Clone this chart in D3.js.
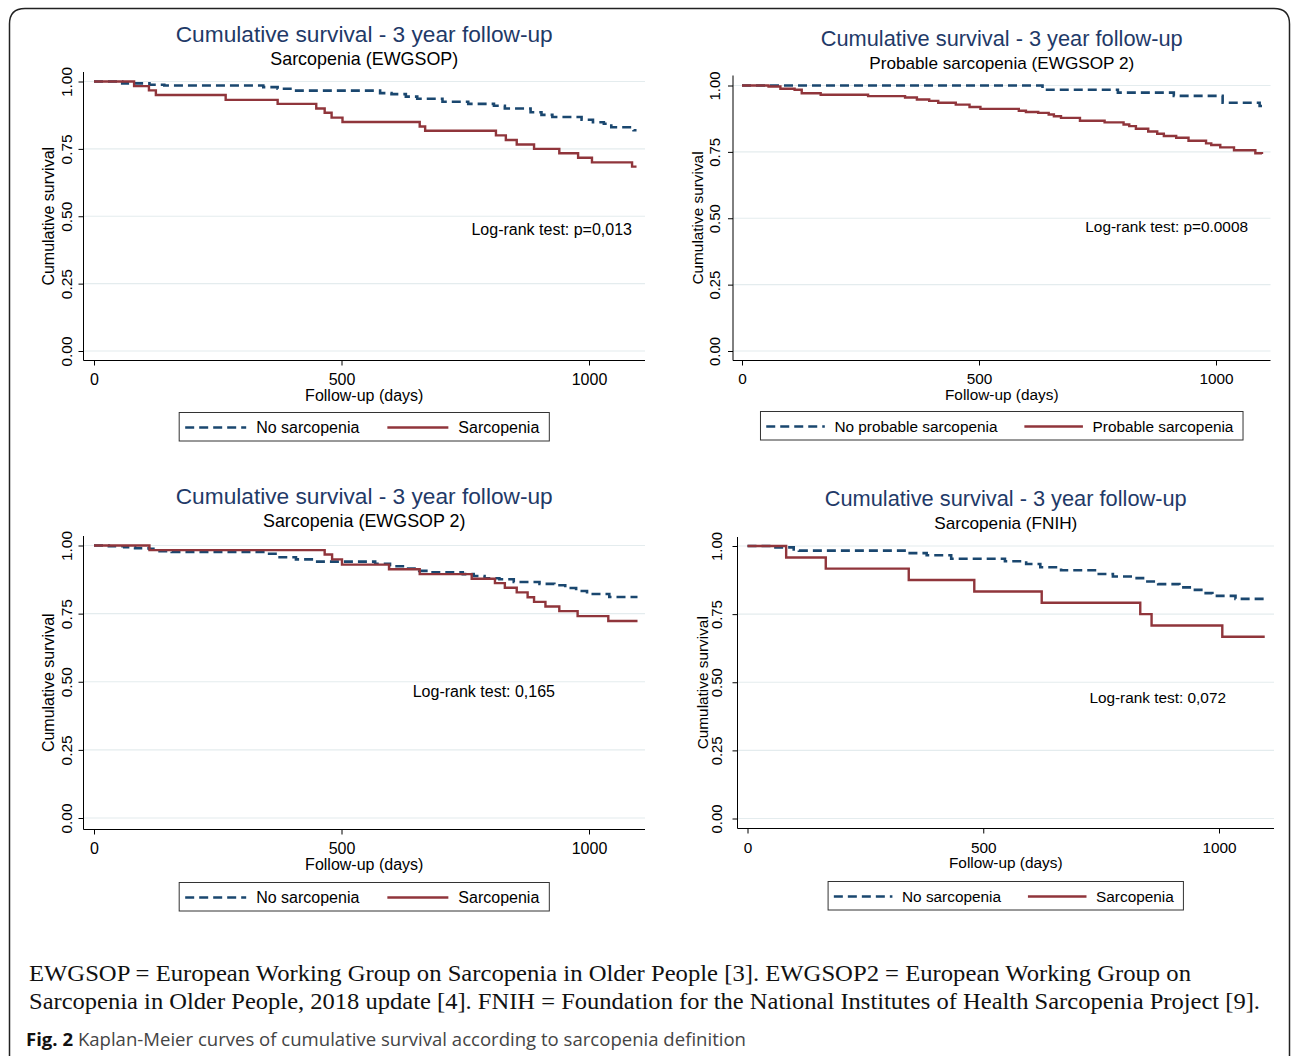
<!DOCTYPE html>
<html>
<head>
<meta charset="utf-8">
<script src="https://cdn.jsdelivr.net/npm/d3@7"></script>
<style>
  body { margin: 0; background: #fff; }
  svg { display: block; }
</style>
</head>
<body>
<svg id="chart" width="1292" height="1056"></svg>
<script>
// Kaplan-Meier values: [day, cumulative survival]
const p1No = [[0,1],[57,0.993],[112,0.988],[142,0.985],[342,0.979],[371,0.973],[401,0.966],[578,0.957],[601,0.953],[630,0.944],[653,0.936],[704,0.925],[756,0.917],[808,0.910],[830,0.900],[882,0.886],[904,0.876],[926,0.868],[985,0.858],[1008,0.849],[1030,0.843],[1045,0.830],[1090,0.819],[1096,0.819]];
const p1Yes = [[0,1],[81,0.983],[111,0.967],[125,0.950],[266,0.932],[371,0.917],[449,0.900],[466,0.884],[480,0.866],[502,0.850],[658,0.833],[669,0.817],[812,0.800],[832,0.783],[854,0.766],[889,0.750],[940,0.734],[978,0.717],[1006,0.700],[1087,0.684],[1096,0.684]];

const p2No = [[0,1],[634,0.984],[793,0.973],[911,0.961],[1014,0.935],[1092,0.923],[1097,0.923]];
const p2Yes = [[0,1],[56,0.996],[81,0.988],[111,0.984],[126,0.971],[166,0.965],[266,0.960],[344,0.955],[369,0.947],[395,0.942],[414,0.935],[451,0.928],[480,0.919],[503,0.912],[584,0.905],[599,0.900],[625,0.897],[647,0.891],[658,0.884],[673,0.878],[713,0.867],[765,0.861],[805,0.853],[817,0.847],[831,0.837],[857,0.827],[876,0.818],[890,0.810],[916,0.803],[942,0.792],[979,0.782],[990,0.776],[1009,0.767],[1038,0.756],[1083,0.745],[1097,0.742]];

const p3No = [[0,1],[30,0.997],[61,0.994],[83,0.990],[111,0.988],[120,0.979],[157,0.976],[342,0.970],[371,0.957],[408,0.949],[445,0.941],[568,0.933],[598,0.924],[624,0.915],[657,0.907],[679,0.902],[745,0.895],[767,0.888],[789,0.880],[819,0.876],[848,0.866],[900,0.859],[930,0.854],[952,0.844],[974,0.833],[996,0.822],[1041,0.811],[1098,0.811]];
const p3Yes = [[0,1],[112,0.983],[466,0.967],[481,0.949],[501,0.930],[596,0.913],[658,0.895],[763,0.878],[810,0.862],[830,0.845],[854,0.828],[876,0.810],[889,0.793],[912,0.776],[940,0.759],[977,0.741],[1039,0.723],[1098,0.723]];

const p4No = [[0,1],[56,0.995],[98,0.987],[109,0.983],[344,0.974],[380,0.966],[432,0.953],[546,0.944],[591,0.934],[621,0.922],[665,0.911],[745,0.897],[775,0.888],[819,0.882],[842,0.870],[871,0.860],[916,0.848],[938,0.839],[968,0.827],[986,0.817],[1035,0.806],[1097,0.806]];
const p4Yes = [[0,1],[82,0.958],[166,0.917],[342,0.875],[481,0.833],[624,0.792],[833,0.750],[857,0.708],[1007,0.667],[1097,0.667]];

const xTicks = [0, 500, 1000];
const yTicks = [0, 0.25, 0.5, 0.75, 1];

const titles = ["Cumulative survival - 3 year follow-up", "Cumulative survival - 3 year follow-up",
                "Cumulative survival - 3 year follow-up", "Cumulative survival - 3 year follow-up"];
const subtitles = ["Sarcopenia (EWGSOP)", "Probable sarcopenia (EWGSOP 2)", "Sarcopenia (EWGSOP 2)", "Sarcopenia (FNIH)"];
const legendLabels = [["No sarcopenia", "Sarcopenia"], ["No probable sarcopenia", "Probable sarcopenia"],
                      ["No sarcopenia", "Sarcopenia"], ["No sarcopenia", "Sarcopenia"]];
const testNotes = ["Log-rank test: p=0,013", "Log-rank test: p=0.0008", "Log-rank test: 0,165", "Log-rank test: 0,072"];
const seriesNo = [p1No, p2No, p3No, p4No];
const seriesYes = [p1Yes, p2Yes, p3Yes, p4Yes];

// panel layout (pixels); s = text scale of that panel
const panels = [
  { s: 1, L: 83.5, R: 645, T: 72, B: 360.5, x0: 94, x1000: 589, y1: 81.5, y0: 351, titleY: 34, subY: 59, ylabX: 48, tickX: 66, xtickY: 379, xtitleY: 395, legY: 412.5, noteX: 632, noteY: 229 },
  { s: 0.96, L: 733, R: 1270.5, T: 75.5, B: 360.5, x0: 742, x1000: 1216, y1: 85.5, y0: 351, titleY: 38, subY: 63, ylabX: 698, tickX: 715, xtickY: 378, xtitleY: 394, legY: 411.5, noteX: 1248, noteY: 226 },
  { s: 1, L: 83.5, R: 645, T: 536, B: 829.5, x0: 94, x1000: 589, y1: 545.5, y0: 818, titleY: 496, subY: 521, ylabX: 48, tickX: 66, xtickY: 848, xtitleY: 864, legY: 882.5, noteX: 555, noteY: 691 },
  { s: 0.96, L: 737.5, R: 1274, T: 537, B: 828.5, x0: 747.5, x1000: 1219, y1: 546, y0: 818.5, titleY: 498, subY: 523, ylabX: 703, tickX: 716.5, xtickY: 847, xtitleY: 862, legY: 881.5, noteX: 1226, noteY: 697 }
];

const blue = "#1a476f", red = "#90353b", navy = "#1f3a68";
const sans = "'Liberation Sans', Arial, sans-serif";
const dash = "9,5";

const svg = d3.select("#chart");
svg.append("rect").attr("width", 1292).attr("height", 1056).attr("fill", "#fff");

// outer frame, open at the bottom
svg.append("path")
  .attr("d", "M9.5,1056 L9.5,24 Q9.5,8.5 25,8.5 L1274,8.5 Q1289.5,8.5 1289.5,24 L1289.5,1056")
  .attr("fill", "none").attr("stroke", "#222").attr("stroke-width", 1.5);

function drawPanel(p, i) {
  const g = svg.append("g");
  const x = d3.scaleLinear().domain([0, 1000]).range([p.x0, p.x1000]);
  const y = d3.scaleLinear().domain([0, 1]).range([p.y0, p.y1]);
  const cx = (p.L + p.R) / 2;
  const fs = v => (v * p.s).toFixed(2) + "px";

  g.append("text").attr("x", cx).attr("y", p.titleY).attr("dy", "0.36em")
    .attr("text-anchor", "middle").attr("fill", navy)
    .style("font-family", sans).style("font-size", fs(22.7)).text(titles[i]);
  g.append("text").attr("x", cx).attr("y", p.subY).attr("dy", "0.36em")
    .attr("text-anchor", "middle").attr("fill", "#000")
    .style("font-family", sans).style("font-size", fs(17.9)).text(subtitles[i]);

  // gridlines
  g.selectAll(".grid").data(yTicks).join("line")
    .attr("x1", p.L).attr("x2", p.R)
    .attr("y1", d => y(d)).attr("y2", d => y(d))
    .attr("stroke", "#e4ecee").attr("stroke-width", 1.2);

  // y axis
  const ya = g.append("g").attr("transform", `translate(${p.L},0)`)
    .call(d3.axisLeft(y).tickValues(yTicks).tickFormat(d3.format(".2f")).tickSize(5));
  ya.select(".domain").remove();
  ya.selectAll(".tick line").attr("stroke", "#000");
  ya.selectAll(".tick text")
    .attr("transform", "rotate(-90)")
    .attr("x", 0).attr("dy", null)
    .attr("y", p.tickX - p.L + 5.5 * p.s)
    .attr("text-anchor", "middle")
    .attr("fill", "#000")
    .style("font-family", sans).style("font-size", fs(15.5));

  // x axis
  const xa = g.append("g").attr("transform", `translate(0,${p.B})`)
    .call(d3.axisBottom(x).tickValues(xTicks).tickFormat(d3.format("d")).tickSize(5));
  xa.select(".domain").remove();
  xa.selectAll(".tick line").attr("stroke", "#000");
  xa.selectAll(".tick text")
    .attr("y", p.xtickY - p.B).attr("dy", "0.36em")
    .attr("fill", "#000")
    .style("font-family", sans).style("font-size", fs(16));

  g.append("line").attr("x1", p.L).attr("x2", p.L).attr("y1", p.T).attr("y2", p.B)
    .attr("stroke", "#000").attr("stroke-width", 1);
  g.append("line").attr("x1", p.L).attr("x2", p.R).attr("y1", p.B).attr("y2", p.B)
    .attr("stroke", "#000").attr("stroke-width", 1);

  g.append("text")
    .attr("transform", `translate(${p.ylabX + 5.7 * p.s},${(p.T + p.B) / 2}) rotate(-90)`)
    .attr("text-anchor", "middle").attr("fill", "#000")
    .style("font-family", sans).style("font-size", fs(16)).text("Cumulative survival");
  g.append("text").attr("x", cx).attr("y", p.xtitleY).attr("dy", "0.36em")
    .attr("text-anchor", "middle").attr("fill", "#000")
    .style("font-family", sans).style("font-size", fs(16)).text("Follow-up (days)");

  const line = d3.line().x(d => x(d[0])).y(d => y(d[1])).curve(d3.curveStepAfter);
  g.append("path").datum(seriesNo[i]).attr("d", line)
    .attr("fill", "none").attr("stroke", blue).attr("stroke-width", 2.6)
    .attr("stroke-dasharray", dash);
  g.append("path").datum(seriesYes[i]).attr("d", line)
    .attr("fill", "none").attr("stroke", red).attr("stroke-width", 2.4);

  g.append("text").attr("x", p.noteX).attr("y", p.noteY).attr("dy", "0.36em")
    .attr("text-anchor", "end").attr("fill", "#000")
    .style("font-family", sans).style("font-size", fs(16)).text(testNotes[i]);

  // legend, centred under the plot
  const leg = g.append("g");
  const box = leg.append("rect").attr("y", p.legY).attr("height", 28.5)
    .attr("fill", "#fff").attr("stroke", "#333").attr("stroke-width", 1);
  const midY = p.legY + 15;
  const items = [{ lab: legendLabels[i][0], col: blue, dash: dash }, { lab: legendLabels[i][1], col: red, dash: null }];
  let cur = 6 * p.s;
  items.forEach((it, k) => {
    leg.append("line").attr("x1", cur).attr("x2", cur + 61 * p.s).attr("y1", midY).attr("y2", midY)
      .attr("stroke", it.col).attr("stroke-width", 2.6).attr("stroke-dasharray", it.dash);
    const t = leg.append("text").attr("x", cur + 71 * p.s).attr("y", midY).attr("dy", "0.36em")
      .attr("fill", "#000").style("font-family", sans).style("font-size", fs(16)).text(it.lab);
    cur = cur + 71 * p.s + t.node().getComputedTextLength() + (k === 0 ? 28 : 10) * p.s;
  });
  const w = cur;
  box.attr("x", 0).attr("width", w);
  leg.attr("transform", `translate(${cx - w / 2},0)`);
}

panels.forEach(drawPanel);

// caption
const serif = "'Liberation Serif', 'Times New Roman', serif";
svg.append("text").attr("x", 29).attr("y", 981).attr("textLength", 1162).attr("lengthAdjust", "spacingAndGlyphs")
  .style("font-family", serif).style("font-size", "23px").attr("fill", "#111")
  .text("EWGSOP = European Working Group on Sarcopenia in Older People [3]. EWGSOP2 = European Working Group on");
svg.append("text").attr("x", 29).attr("y", 1009).attr("textLength", 1231).attr("lengthAdjust", "spacingAndGlyphs")
  .style("font-family", serif).style("font-size", "23px").attr("fill", "#111")
  .text("Sarcopenia in Older People, 2018 update [4]. FNIH = Foundation for the National Institutes of Health Sarcopenia Project [9].");
const fig = svg.append("text").attr("x", 26).attr("y", 1046).attr("textLength", 720).attr("lengthAdjust", "spacingAndGlyphs")
  .style("font-family", "'Open Sans', sans-serif").style("font-size", "18.5px").attr("fill", "#444");
fig.append("tspan").style("font-weight", "bold").attr("fill", "#111").text("Fig. 2");
fig.append("tspan").text(" Kaplan-Meier curves of cumulative survival according to sarcopenia definition");
</script>
</body>
</html>
